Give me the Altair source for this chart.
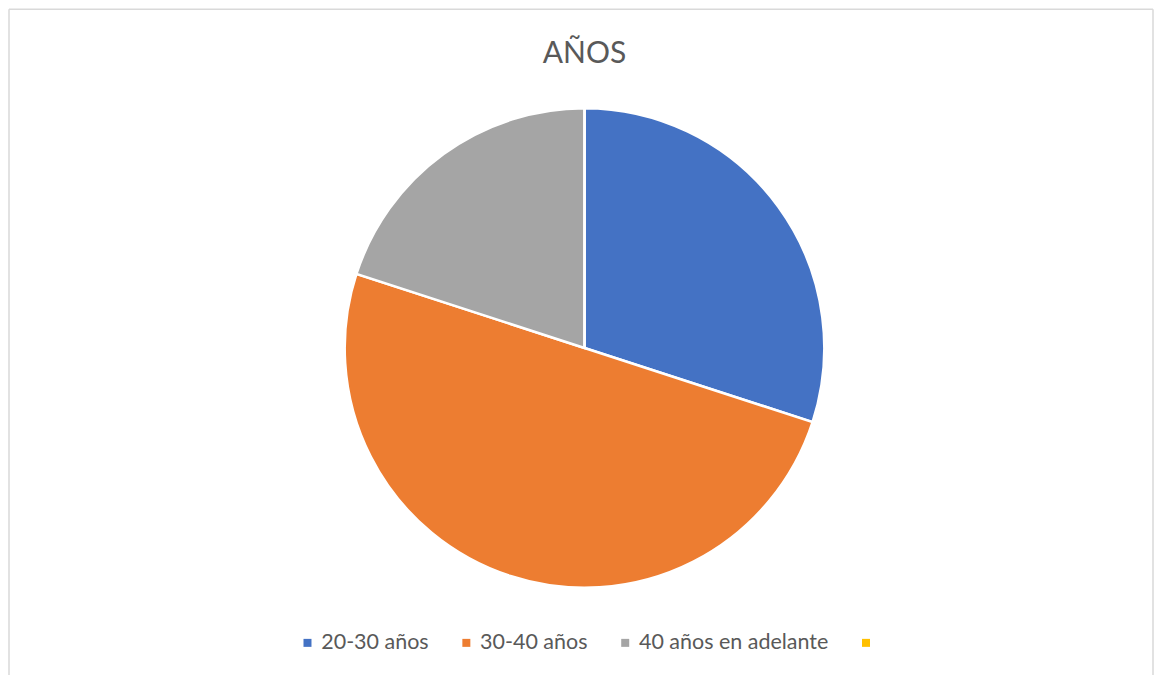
import altair as alt
import pandas as pd

title_text = "AÑOS"
categories = ["20-30 años", "30-40 años", "40 años en adelante", " "]
values = [30, 50, 20, 0]
colors = ["#4472C4", "#ED7D31", "#A5A5A5", "#FFC000"]

df = pd.DataFrame({"cat": categories, "val": values, "ord": list(range(len(categories)))})
tdf = pd.DataFrame({"t": [title_text]})

W, H = 1146, 655
BORDER = "#d9d9d9"

pie = alt.Chart(df).mark_arc(outerRadius=240, stroke="white", strokeWidth=2.5).encode(
    theta=alt.Theta("val:Q", stack=True),
    order=alt.Order("ord:Q"),
    x=alt.value(576),
    y=alt.value(340),
    color=alt.Color(
        "cat:N",
        scale=alt.Scale(domain=categories, range=colors),
        sort=categories,
        legend=alt.Legend(
            title=None,
            orient="none",
            legendX=288,
            legendY=624,
            direction="horizontal",
            symbolType="square",
            symbolSize=64,
            symbolStrokeWidth=0,
            labelFont="Lato",
            labelFontSize=21.5,
            labelColor="#595959",
            labelOffset=3,
            labelLimit=400,
            columnPadding=26,
            padding=0,
        ),
    ),
)

title = alt.Chart(tdf).mark_text(
    font="Lato", fontSize=30, color="#595959", align="center", baseline="alphabetic"
).encode(text="t:N", x=alt.value(576), y=alt.value(55))

left = alt.Chart(tdf).mark_rule(color=BORDER, strokeWidth=1.5).encode(
    x=alt.value(0), y=alt.value(1), y2=alt.value(H + 20)
)
right = alt.Chart(tdf).mark_rule(color=BORDER, strokeWidth=1.5).encode(
    x=alt.value(W - 1), y=alt.value(1), y2=alt.value(H + 20)
)
top = alt.Chart(tdf).mark_rule(color=BORDER, strokeWidth=1.5).encode(
    x=alt.value(0), x2=alt.value(W - 1), y=alt.value(1)
)

chart = alt.layer(left, right, top, pie, title).properties(
    width=W, height=H, padding=0,
    view=alt.ViewBackground(strokeWidth=0, stroke="transparent"),
).configure_view(strokeWidth=0, stroke="transparent").configure(background="white")

chart.save("out.html", embed_options={"renderer": "svg", "actions": False})
